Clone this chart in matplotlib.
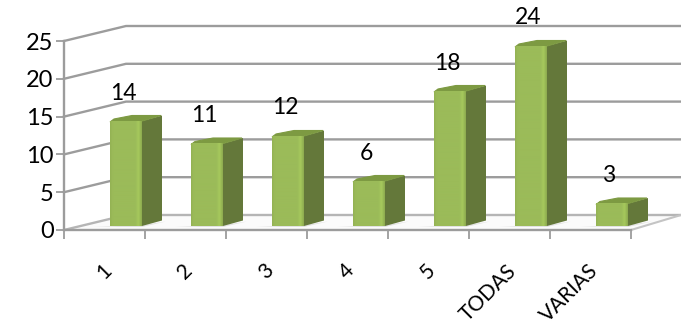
import numpy as np
import matplotlib
matplotlib.use("Agg")
import matplotlib.pyplot as plt
from matplotlib.patches import Polygon
from matplotlib.colors import LinearSegmentedColormap
from matplotlib.transforms import ScaledTranslation

categories = ["1", "2", "3", "4", "5", "TODAS", "VARIAS"]
values = [14, 11, 12, 6, 18, 24, 3]
y_ticks = [0, 5, 10, 15, 20, 25]

W, H = 681, 327
L, R, B, T = 64, 631, 230, 41
PX = (R - L) / len(categories)      # px per category
PY = (B - T) / y_ticks[-1]          # px per value unit
plt.rcParams['font.family'] = ['Lato', 'DejaVu Sans']

fig = plt.figure(figsize=(W / 100, H / 100), dpi=100, facecolor='white')
ax = fig.add_axes([L / W, (H - B) / H, (R - L) / W, (B - T) / H])
ax.set_xlim(0, len(categories))
ax.set_ylim(0, y_ticks[-1])
ax.patch.set_visible(False)

def ox(px):
    return px / PX

def oy(px):
    return px / PY

GRID = '#9c9c9c'
DX, DY = ox(62), oy(15)
XEND = ox(681 - L)

# floor
ax.add_patch(Polygon([(0, 0), (DX, DY), (XEND, DY), (len(categories), 0)],
                     closed=True, fc='#fbfbfb', ec='none', clip_on=False, zorder=1))
# walls and grid
for v in y_ticks:
    ax.plot([0, DX, XEND], [v, v + DY, v + DY], color=GRID if v else '#b5b5b5', lw=1.7,
            clip_on=False, zorder=2, solid_joinstyle='miter')
ax.plot([len(categories), XEND], [0, DY], color='#c4c4c4', lw=1.5, clip_on=False, zorder=2)

# bars
front_cmap = LinearSegmentedColormap.from_list(
    'front', [(0, '#94b354'), (0.08, '#9bbb59'), (0.8, '#9bbb59'), (0.9, '#a6c95c'), (1, '#8dab4f')])
grad = np.linspace(0, 1, 64).reshape(1, -1)
bar_off, bar_w = ox(46) - 0.5, ox(32)
base, side_dx, side_dy = oy(4), ox(20), oy(5.5)
scale = 7.5 / PY

for i, val in enumerate(values):
    x0 = i + 0.5 + bar_off
    x1 = x0 + bar_w
    top = base + val * scale
    # floor shadow
    ax.add_patch(Polygon([(x0 - ox(16), base - oy(1)), (x1, base - oy(1)),
                          (x1 + side_dx + ox(4), base + side_dy - oy(1)), (x1, base + oy(1))],
                         closed=True, fc='#e2e2e2', ec='none', clip_on=False, zorder=3))
    # side
    ax.add_patch(Polygon([(x1, base), (x1 + side_dx, base + side_dy),
                          (x1 + side_dx, top + side_dy), (x1, top)],
                         closed=True, fc='#64783a', ec='none', clip_on=False, zorder=4))
    # top
    ax.add_patch(Polygon([(x0, top - oy(1)), (x0 + ox(4), top + oy(2)), (x0 + ox(22), top + oy(5.5)),
                          (x1 + side_dx - ox(1), top + side_dy), (x1, top)],
                         closed=True, fc='#7d9a42', ec='#7d9a42', lw=0.8, clip_on=False, zorder=4))
    # front
    ax.imshow(grad, extent=[x0, x1, base, top], aspect='auto', cmap=front_cmap,
              zorder=5, clip_on=False, interpolation='bilinear')
    ax.annotate(str(val), (x0 + bar_w / 2 - ox(3), top), xytext=(0, 28 * 0.72),
                textcoords='offset points', ha='center', va='center',
                fontsize=16.5, color='black', zorder=6, annotation_clip=False)

ax.set_xlim(0, len(categories))
ax.set_ylim(0, y_ticks[-1])

# axes
for s in ['top', 'right']:
    ax.spines[s].set_visible(False)
for s in ['left', 'bottom']:
    ax.spines[s].set_color(GRID)
    ax.spines[s].set_linewidth(1.7)
    ax.spines[s].set_zorder(7)
ax.set_yticks(y_ticks)
ax.set_yticklabels([str(v) for v in y_ticks])
ax.tick_params(axis='y', length=5.5, width=1.3, color=GRID, labelsize=17, pad=2)
ax.set_xticks(np.arange(len(categories) + 1))
ax.set_xticklabels([])
ax.tick_params(axis='x', which='major', length=6.5, width=1.3, color=GRID)
ax.set_xticks(np.arange(len(categories)) + 0.5, minor=True)
ax.set_xticklabels(categories, minor=True, rotation=45, ha='right', va='top',
                   rotation_mode='anchor')
ax.tick_params(axis='x', which='minor', length=0, labelsize=15, pad=22)
shift = ScaledTranslation(-3 / 100, 0, fig.dpi_scale_trans)
for lab in ax.get_xticklabels(minor=True):
    lab.set_transform(lab.get_transform() + shift)

fig.savefig('out.png', dpi=100, facecolor='white')
